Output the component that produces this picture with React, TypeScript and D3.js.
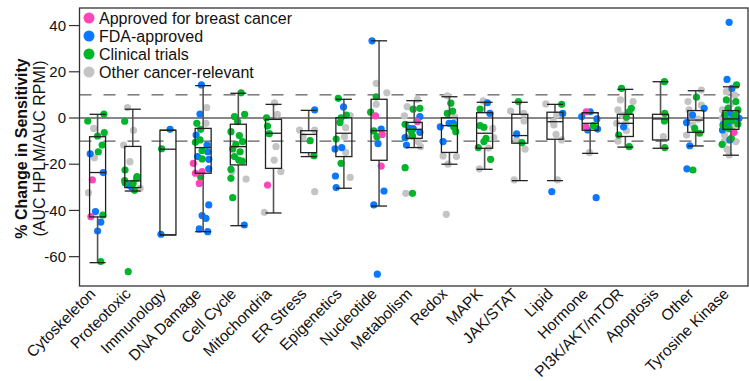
import React from "react";
import * as d3 from "d3";

const categories = [
  "Cytoskeleton", "Proteotoxic", "Immunology", "DNA Damage", "Cell Cycle",
  "Mitochondria", "ER Stress", "Epigenetics", "Nucleotide", "Metabolism",
  "Redox", "MAPK", "JAK/STAT", "Lipid", "Hormone", "PI3K/AKT/mTOR",
  "Apoptosis", "Other", "Tyrosine Kinase",
];

const yTicks = [40, 20, 0, -20, -40, -60];

// box plot stats per category
const whiskerLow = [-62.6, -31.6, -50.6, -49.2, -46.6, -41.1, -16.7, -30.4, -38.1, -12.8, -20, -22.2, -27.1, -27.1, -15.3, -12.6, -13.1, -12.1, -16.1];
const q1 = [-42.8, -30.1, -50.6, -23.9, -20.3, -21.8, -15, -16.7, -18.3, -8.8, -14.9, -13.1, -10.9, -9.2, -5.3, -8, -9.5, -6.2, -4.9];
const median = [-23.6, -27.2, -13.5, -12.8, -12.4, -6.6, -7.1, -6.6, -5.5, -4.9, -3.3, -6.6, -7.6, -1.6, -2.3, -2.3, -0.4, -0.9, -0.4];
const q3 = [-8.1, -12.3, -5.3, -4.5, -2.7, -0.6, -5.5, 0.1, 8.1, -1.9, 0.1, 2.3, 1.6, 2.5, 2.3, 1.6, 1.6, 3.2, 3.2];
const whiskerHigh = [1.6, 3.8, -5.3, 14, 10.7, 5.9, 3.3, 8.1, 33.4, 7.5, 9.2, 6.8, 6.8, 5.9, 2.3, 12.4, 15.7, 11.8, 13.5];

// groups: B approved for breast cancer, F FDA-approved, C clinical trials, O other
const groups = ["B", "F", "C", "O"];
const groupLabels = ["Approved for breast cancer", "FDA-approved", "Clinical trials", "Other cancer-relevant"];
const groupColors = ["#ff45b8", "#0a78ff", "#00b52a", "#c4c4c4"];

// [group, jitter (% of category step), value]
type Pt = [string, number, number];

const cytoskeleton: Pt[] = [
  ["C", -28, -1.3], ["C", 18, 1.7], ["O", -11, -4.5], ["C", 19, -6.3], ["C", 0, -7.8],
  ["C", 13, -11.7], ["C", 2, -14.6], ["F", -21, -15.5], ["O", -9, -17.2], ["F", 16, -23.6],
  ["B", -15, -26.8], ["O", -26, -32.3], ["F", -6, -40.5], ["B", -19, -42.7], ["C", 15, -42],
  ["F", 9, -45.1], ["F", 0, -48.9], ["C", 9, -62.1],
];
const proteotoxic: Pt[] = [
  ["O", -15, 4.5], ["C", -23, -1.4], ["O", 2, -5.3], ["O", -26, -11.7], ["O", -8, -18.9],
  ["C", -22, -22.5], ["C", -23, -27.1], ["C", 11, -26.1], ["F", -11, -29], ["F", -3, -30],
  ["C", 5, -31.3], ["C", -13, -66.5], ["O", 21, -30.4], ["C", -22, -28], ["C", 1, -28.3],
  ["C", 12, -25.4],
];
const immunology: Pt[] = [["F", 6, -4.9], ["C", -18, -13.3], ["F", -20, -50.3]];
const dnaDamage: Pt[] = [
  ["F", -5, 14.3], ["O", 10, 4.5], ["F", -9, 1.7], ["C", -18, -2.3], ["O", 8, -2.3],
  ["C", -7, -4.9], ["F", -20, -7.4], ["C", -9, -9.5], ["F", 11, -11.7], ["C", -22, -10.5],
  ["F", 13, -14.6], ["C", -3, -14.1], ["F", -16, -16.7], ["C", -3, -17.7], ["F", 16, -17.9],
  ["B", -28, -19.6], ["F", 16, -22], ["B", -22, -23.9], ["B", -3, -23.2], ["C", -7, -25.5],
  ["B", -11, -28.3], ["F", 16, -37.6], ["F", -3, -42.2], ["F", 8, -43.4], ["F", -11, -48],
  ["F", 13, -49.2],
];
const cellCycle: Pt[] = [
  ["C", 8, 10.9], ["C", -11, 0.6], ["C", 18, 1.6], ["C", -2, -1.6], ["C", -21, -5.9],
  ["C", 3, -7.6], ["C", 12, -10.2], ["C", -7, -11.4], ["C", -16, -13.4], ["C", 5, -14.6],
  ["C", -11, -16.7], ["C", 1, -18.2], ["C", 11, -18.6], ["C", -21, -22.2], ["O", -18, -23.2],
  ["O", 22, -26.4], ["C", -21, -26.1], ["C", -16, -34.5], ["F", 17, -46.3],
];
const mitochondria: Pt[] = [
  ["O", 3, 6.6], ["C", -20, 0.1], ["O", 11, 1.6], ["C", -17, -3.5], ["C", -12, -6.8],
  ["O", 7, -12.4], ["O", 2, -18.2], ["O", 21, -23.2], ["B", -17, -29], ["O", -26, -40.8],
];
const erStress: Pt[] = [
  ["F", 17, 3.5], ["O", -26, -5.2], ["O", 17, -5.2], ["O", -16, -8.1], ["C", 4, -9.8],
  ["C", 15, -16.3], ["O", 17, -31.9],
];
const epigenetics: Pt[] = [
  ["C", -16, 8.5], ["F", -1, 4.8], ["C", 7, 1.3], ["O", 18, 1.0], ["C", -8, 0.1],
  ["C", -11, -1.9], ["O", 5, -4.2], ["O", 2, -8.1], ["C", -22, -9.1], ["F", -25, -13.4],
  ["F", -6, -12.8], ["O", 5, -14.9], ["C", -8, -19.6], ["F", -24, -25.1], ["O", 18, -25.7],
  ["F", -22, -30.1],
];
const nucleotide: Pt[] = [
  ["F", -20, 33.4], ["O", -8, 15], ["O", 22, 10.9], ["C", -8, 9.2], ["O", -8, 5.9],
  ["C", -24, 2.5], ["B", -10, 0.9], ["C", -15, -5.6], ["F", 6, -4.8], ["B", 9, -7.1],
  ["C", -6, -8.1], ["F", -3, -11.1], ["B", 6, -20.8], ["F", 14, -31.6], ["F", -15, -37.6],
  ["F", -5, -67.6],
];
const metabolism: Pt[] = [
  ["O", 9, 8.1], ["O", -20, 4.9], ["C", -3, 3.8], ["C", 16, 4.2], ["O", -28, 0.9],
  ["F", 16, 0.6], ["B", 9, -1.6], ["C", -26, -2.7], ["F", -14, -4.5], ["F", -3, -4.6],
  ["C", -8, -5.6], ["F", -26, -8.5], ["C", -5, -7.8], ["F", 16, -6.2], ["O", 11, -10.2],
  ["F", -22, -11.7], ["C", -26, -21.5], ["O", -24, -32.6], ["C", -5, -32.6], ["O", 18, -12.4],
  ["O", -20, -8],
];
const redox: Pt[] = [
  ["O", -6, 9.6], ["C", 4, 6.4], ["C", 9, 3], ["C", -6, 2], ["O", 15, 0.5],
  ["F", -26, -3.8], ["F", -1, -2.3], ["F", 11, -2.3], ["C", 12, -3.8], ["C", 18, -5.9],
  ["F", -18, -10.2], ["O", -18, -16.4], ["O", 20, -16.7], ["O", -4, -20], ["O", -9, -41.7],
];
const mapk: Pt[] = [
  ["O", -4, 7.4], ["F", 8, 6.6], ["C", -13, 3.9], ["F", 15, 2], ["C", -13, -3.3],
  ["C", -2, -4], ["O", 23, -4.5], ["O", 26, -8.5], ["C", 4, -8.8], ["C", -2, -10.2],
  ["C", -18, -12.8], ["O", 11, -13], ["C", 17, -17.9], ["O", -15, -22],
];
const jakStat: Pt[] = [
  ["C", -4, 7.1], ["O", -26, 3], ["O", 11, 2], ["O", 12, -1.3], ["F", -9, -6.9],
  ["O", -9, -9.5], ["C", 6, -10.7], ["O", 15, -13.5], ["O", -16, -26.8],
];
const lipid: Pt[] = [
  ["O", -26, 6.1], ["C", 19, 5.9], ["F", 22, 2], ["O", 5, 1.3], ["O", -5, -1.6],
  ["O", -3, -3], ["O", 3, -7.1], ["O", 19, -9.5], ["O", 7, -26.8], ["F", -9, -31.9],
];
const hormone: Pt[] = [
  ["B", -11, 2.7], ["F", 0, 2.7], ["F", -24, 0.6], ["F", 19, -0.4], ["B", -12, -3.8],
  ["C", 9, -3.3], ["F", -7, -5.2], ["F", 21, -4.8], ["O", -2, -15], ["F", 17, -34.5],
];
const pi3k: Pt[] = [
  ["C", -11, 12.8], ["O", -14, 7.8], ["O", 22, 7.1], ["C", 17, 4.2], ["C", 11, 2.7],
  ["O", -21, 3.5], ["O", -8, 1.3], ["C", 3, 0.3], ["O", -25, -2.3], ["O", 1, -2.3],
  ["F", -5, -3.8], ["O", 3, -5.5], ["C", -19, -7.4], ["O", -21, -10], ["C", 11, -12.4],
];
const apoptosis: Pt[] = [
  ["C", 11, 15.7], ["C", 12, 2], ["C", 11, -1.3], ["O", 8, -8.1], ["C", 12, -12.8],
];
const other: Pt[] = [
  ["O", 16, 12.1], ["C", 2, 9], ["O", -22, 7.1], ["O", 16, 5.6], ["F", 24, 4.2],
  ["O", -19, 3.5], ["O", -12, 1.3], ["O", 7, -0.5], ["F", -9, 1.3], ["F", -26, -2],
  ["O", -8, -3], ["C", -3, -4.5], ["O", -26, -7.4], ["C", 11, -6.6], ["F", -17, -12],
  ["F", -25, -22], ["C", -8, -22.5],
];
const tyrosineKinase: Pt[] = [
  ["F", -5, 41.4], ["F", -11, 16.7], ["C", 16, 14.3], ["F", 3, 12.8], ["O", -13, 11.4],
  ["O", 11, 9.9], ["C", -13, 7.8], ["C", 14, 7.1], ["O", -1, 6.1], ["C", -8, 4.2],
  ["O", -24, 3.5], ["C", 20, 3.5], ["F", -1, 2], ["C", -18, 1.3], ["C", 11, 1],
  ["F", 23, -0.1], ["O", -24, 0], ["C", -13, -0.9], ["C", 4, -1.1], ["F", -22, -2.7],
  ["C", 20, -2.6], ["C", -22, -3.4], ["F", -8, -3.3], ["O", 6, -3.3], ["F", -24, -5.2],
  ["C", -5, -4.6], ["B", 9, -6.2], ["O", -18, -7.4], ["C", 1, -8.8], ["F", -3, -9.5],
  ["O", 14, -10.2], ["C", -25, -11.4], ["O", -11, -13.5], ["O", -5, -16], ["O", -18, -10],
];

const pointsByCategory = [
  cytoskeleton, proteotoxic, immunology, dnaDamage, cellCycle, mitochondria, erStress,
  epigenetics, nucleotide, metabolism, redox, mapk, jakStat, lipid, hormone, pi3k,
  apoptosis, other, tyrosineKinase,
];

const W = 749;
const H = 381;
const FONT = "'Liberation Sans', Arial, sans-serif";

export default function App() {
  const left = 79.5, right = 748, top = 8, bottom = 286;
  const x = d3.scaleBand<string>().domain(categories).range([80, 748.5]);
  const y = d3.scaleLinear().domain([-72.7, 47.6]).range([bottom, top]);
  const color = d3.scaleOrdinal<string, string>().domain(groups).range(groupColors);
  const cx = (c: string) => (x(c) ?? 0) + x.bandwidth() / 2;
  const boxW = 16;
  const midY = 148.5;

  const allPts = pointsByCategory.flatMap((pts, i) =>
    pts.map(([g, j, v]) => ({ cat: categories[i], g, j, v }))
  );
  // draw order: other, FDA, clinical, breast
  const order = ["O", "F", "C", "B"];
  allPts.sort((a, b) => order.indexOf(a.g) - order.indexOf(b.g));

  return (
    <div style={{ position: "absolute", left: 0, top: 0 }}>
      <svg width={W} height={H} style={{ display: "block", fontFamily: FONT }}>
        <rect width={W} height={H} fill="#fff" />
        {/* reference lines */}
        {[10, -10].map((v) => (
          <line key={v} x1={left} x2={right} y1={y(v)} y2={y(v)} stroke="#333" strokeWidth={1} strokeDasharray="12,12" />
        ))}
        <line x1={left} x2={right} y1={y(0)} y2={y(0)} stroke="#111" strokeWidth={1.2} />

        {/* points */}
        {allPts.map((p, i) => (
          <circle
            key={i}
            cx={cx(p.cat) + (p.j / 100) * x.step()}
            cy={y(p.v)}
            r={3.6}
            fill={color(p.g)}
          />
        ))}

        {/* boxes */}
        {categories.map((c, i) => {
          const xc = cx(c);
          return (
            <g key={c}>
              <line x1={xc} x2={xc} y1={y(whiskerHigh[i])} y2={y(q3[i])} stroke="#555" strokeWidth={1.6} />
              <line x1={xc} x2={xc} y1={y(q1[i])} y2={y(whiskerLow[i])} stroke="#555" strokeWidth={1.6} />
              <line x1={xc - boxW / 2} x2={xc + boxW / 2} y1={y(whiskerHigh[i])} y2={y(whiskerHigh[i])} stroke="#222" strokeWidth={1.3} />
              <line x1={xc - boxW / 2} x2={xc + boxW / 2} y1={y(whiskerLow[i])} y2={y(whiskerLow[i])} stroke="#222" strokeWidth={1.3} />
              <rect x={xc - boxW / 2} width={boxW} y={y(q3[i])} height={y(q1[i]) - y(q3[i])} fill="none" stroke="#222" strokeWidth={1.3} />
              <line x1={xc - boxW / 2} x2={xc + boxW / 2} y1={y(median[i])} y2={y(median[i])} stroke="#222" strokeWidth={1.3} />
            </g>
          );
        })}

        {/* frame */}
        <rect x={left} y={top} width={right - left} height={bottom - top} fill="none" stroke="#333" strokeWidth={1.3} />

        {/* y axis */}
        {yTicks.map((t) => (
          <g key={t} transform={`translate(0,${y(t)})`}>
            <line x1={69} x2={left} stroke="#333" strokeWidth={1.2} />
            <text x={66} dy="0.35em" textAnchor="end" fontSize={15} fill="#111">{t}</text>
          </g>
        ))}
        <text transform={`translate(27,${midY}) rotate(-90)`} textAnchor="middle" fontSize={16} fontWeight="bold" fill="#111">
          % Change in Sensitivity
        </text>
        <text transform={`translate(44.5,${midY}) rotate(-90)`} textAnchor="middle" fontSize={16} fill="#111">
          (AUC HPLM/AUC RPMI)
        </text>

        {/* x labels */}
        {categories.map((c) => (
          <text
            key={c}
            transform={`translate(${cx(c) - 5},${bottom + 5}) rotate(-45)`}
            dy="0.35em"
            textAnchor="end"
            fontSize={15.5}
            fill="#111"
          >
            {c}
          </text>
        ))}

        {/* legend */}
        {groupLabels.map((l, i) => (
          <g key={l} transform={`translate(89,${18 + i * 18})`}>
            <circle r={5.5} fill={groupColors[i]} />
            <text x={10} dy="0.35em" fontSize={16} fill="#111">{l}</text>
          </g>
        ))}
      </svg>
    </div>
  );
}
